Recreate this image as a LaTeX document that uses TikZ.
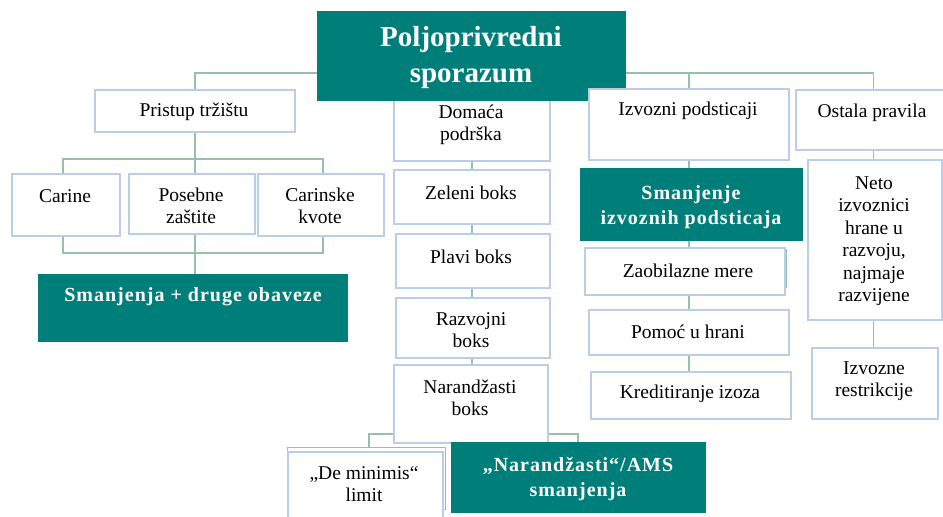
\documentclass[tikz,border=0pt]{standalone}
\usepackage{fontspec}
\setmainfont{Liberation Serif}
\definecolor{teal1}{RGB}{0,126,121}
\definecolor{boxblue}{RGB}{188,205,234}
\definecolor{conngreen}{RGB}{150,192,170}
\begin{document}
\begin{tikzpicture}[x=1pt,y=-1pt,
  box/.style={draw=boxblue, line width=1.8pt, fill=white, anchor=north west, inner sep=0pt},
  shadowbox/.style={draw=conngreen, line width=1.4pt, fill=white, anchor=north west, inner sep=0pt},
  tealbox/.style={fill=teal1, draw=teal1, line width=0.5pt, anchor=north west, inner sep=0pt},
  txt/.style={align=center, font=\fontsize{19.5}{22.5}\selectfont, text=black, inner sep=0pt},
  ttxt/.style={align=center, font=\fontsize{20}{24.5}\selectfont\bfseries\addfontfeatures{LetterSpace=5}, text=white, inner sep=0pt},
  conn/.style={draw=conngreen, line width=1.8pt}]
\useasboundingbox (0,0) rectangle (943,517);
\clip (0,0) rectangle (943,517);
% boxes
\node[box, minimum width=200pt, minimum height=42pt] (pristup) at (94,89) {};
\node[box, minimum width=156pt, minimum height=71pt] (domaca) at (393,89) {};
\node[tealbox, minimum width=308pt, minimum height=89pt] (title) at (317,11) {};
\node[box, minimum width=200pt, minimum height=71pt] (izvozni) at (588,88) {};
\node[box, minimum width=155pt, minimum height=60pt] (ostala) at (795,89) {};
\node[box, minimum width=108pt, minimum height=62pt] (carine) at (11,173) {};
\node[box, minimum width=126pt, minimum height=60pt] (posebne) at (128,173) {};
\node[box, minimum width=126pt, minimum height=62pt] (carinske) at (257,173) {};
\node[tealbox, minimum width=309pt, minimum height=67pt] (smanjenja) at (38,274) {};
\node[box, minimum width=156pt, minimum height=54pt] (zeleni) at (393,169) {};
\node[box, minimum width=154pt, minimum height=54pt] (plavi) at (395,233) {};
\node[box, minimum width=154pt, minimum height=60pt] (razvojni) at (395,297) {};
\node[box, minimum width=154pt, minimum height=78pt] (narandzasti) at (393,364) {};
\node[shadowbox, minimum width=158pt, minimum height=62pt] (dmshadow) at (287,447) {};
\node[box, minimum width=155pt, minimum height=80pt] (deminimis) at (287,451) {};
\node[tealbox, minimum width=254pt, minimum height=70pt] (ams) at (451,442) {};
\node[tealbox, minimum width=222pt, minimum height=72pt] (smizv) at (580,168) {};
\node[shadowbox, minimum width=200pt, minimum height=38pt] (zshadow) at (586,249) {};
\node[box, minimum width=200pt, minimum height=47pt] (zaob) at (584,247) {};
\node[box, minimum width=200pt, minimum height=45pt] (pomoc) at (588,309) {};
\node[box, minimum width=200pt, minimum height=47pt] (kredit) at (590,371) {};
\node[box, minimum width=134pt, minimum height=160pt] (neto) at (807,159) {};
\node[box, minimum width=126pt, minimum height=71pt] (izvozne) at (811,347) {};
% connectors
\coordinate (tl) at ([yshift=-17.5pt]title.west);
\coordinate (tr) at ([yshift=-17.5pt]title.east);
\draw[conn] (tl) -| (pristup.north);
\draw[conn] (tr) -| (ostala.north);
\draw[conn] (izvozni.north) -- (izvozni.north |- tr);
\draw[conn] (pristup.south) -- ++(0,26) coordinate (pb);
\draw[conn] ([xshift=-3pt]carine.north) |- (pb) -| ([xshift=2pt]carinske.north);
\draw[conn] (pb) -- (pb |- posebne.north);
\draw[conn] ([xshift=-3pt]carine.south) -- ++(0,16) coordinate (cb) -| ([xshift=2pt]carinske.south);
\draw[conn] (posebne.south -| pb) -- (smanjenja.north -| pb);
\draw[conn] (domaca.south) -- (domaca.south |- zeleni.north);
\draw[conn] (zeleni.south -| domaca.south) -- (domaca.south |- plavi.north);
\draw[conn] (plavi.south -| domaca.south) -- (domaca.south |- razvojni.north);
\draw[conn] (razvojni.south -| domaca.south) -- (domaca.south |- narandzasti.north);
\draw[conn] ([yshift=10pt]narandzasti.south west) -| ([xshift=2pt]dmshadow.north);
\draw[conn] ([yshift=10pt]narandzasti.south east) -| (ams.north);
\draw[conn] (izvozni.south) -- (izvozni.south |- smizv.north);
\draw[conn] (smizv.south -| izvozni.south) -- (izvozni.south |- zaob.north);
\draw[conn] (zaob.south -| izvozni.south) -- (izvozni.south |- pomoc.north);
\draw[conn] (pomoc.south -| izvozni.south) -- (izvozni.south |- kredit.north);
\draw[conn] (ostala.south) -- (ostala.south |- neto.north);
\draw[conn] (neto.south -| ostala.south) -- (ostala.south |- izvozne.north);
% texts
\node[align=center, inner sep=0pt, text=white, font=\fontsize{29}{36}\selectfont\bfseries] (t-title) at (471,58) {Poljoprivredni\\sporazum};
\node[txt] (t-pristup) at (194,112) {Pristup tržištu};
\node[txt] (t-domaca) at (471,125) {Domaća\\podrška};
\node[txt] (t-izvozni) at (688,111) {Izvozni podsticaji};
\node[txt] (t-ostala) at (872,113) {Ostala pravila};
\node[txt] (t-carine) at (65,196) {Carine};
\node[txt] (t-posebne) at (191,206) {Posebne\\zaštite};
\node[txt] (t-carinske) at (320,206) {Carinske\\kvote};
\node[ttxt] (t-smanjenja) at (193,297) {Smanjenja + druge obaveze};
\node[txt] (t-zeleni) at (471,193) {Zeleni boks};
\node[txt] (t-plavi) at (471,257) {Plavi boks};
\node[txt] (t-razvojni) at (471,330) {Razvojni\\boks};
\node[txt] (t-narandzasti) at (470,398) {Narandžasti\\boks};
\node[txt] (t-deminimis) at (364,484) {„De minimis“\\limit};
\node[ttxt] (t-ams) at (578,479) {„Narandžasti“/AMS\\smanjenja};
\node[ttxt] (t-smizv) at (691,207) {Smanjenje\\izvoznih podsticaja};
\node[txt] (t-zaob) at (688,271) {Zaobilazne mere};
\node[txt] (t-pomoc) at (688,332) {Pomoć u hrani};
\node[txt] (t-kredit) at (690,394) {Kreditiranje izoza};
\node[txt] (t-neto) at (874,241) {Neto\\izvoznici\\hrane u\\razvoju,\\najmaje\\razvijene};
\node[txt] (t-izvozne) at (874,381) {Izvozne\\restrikcije};
\end{tikzpicture}
\end{document}
